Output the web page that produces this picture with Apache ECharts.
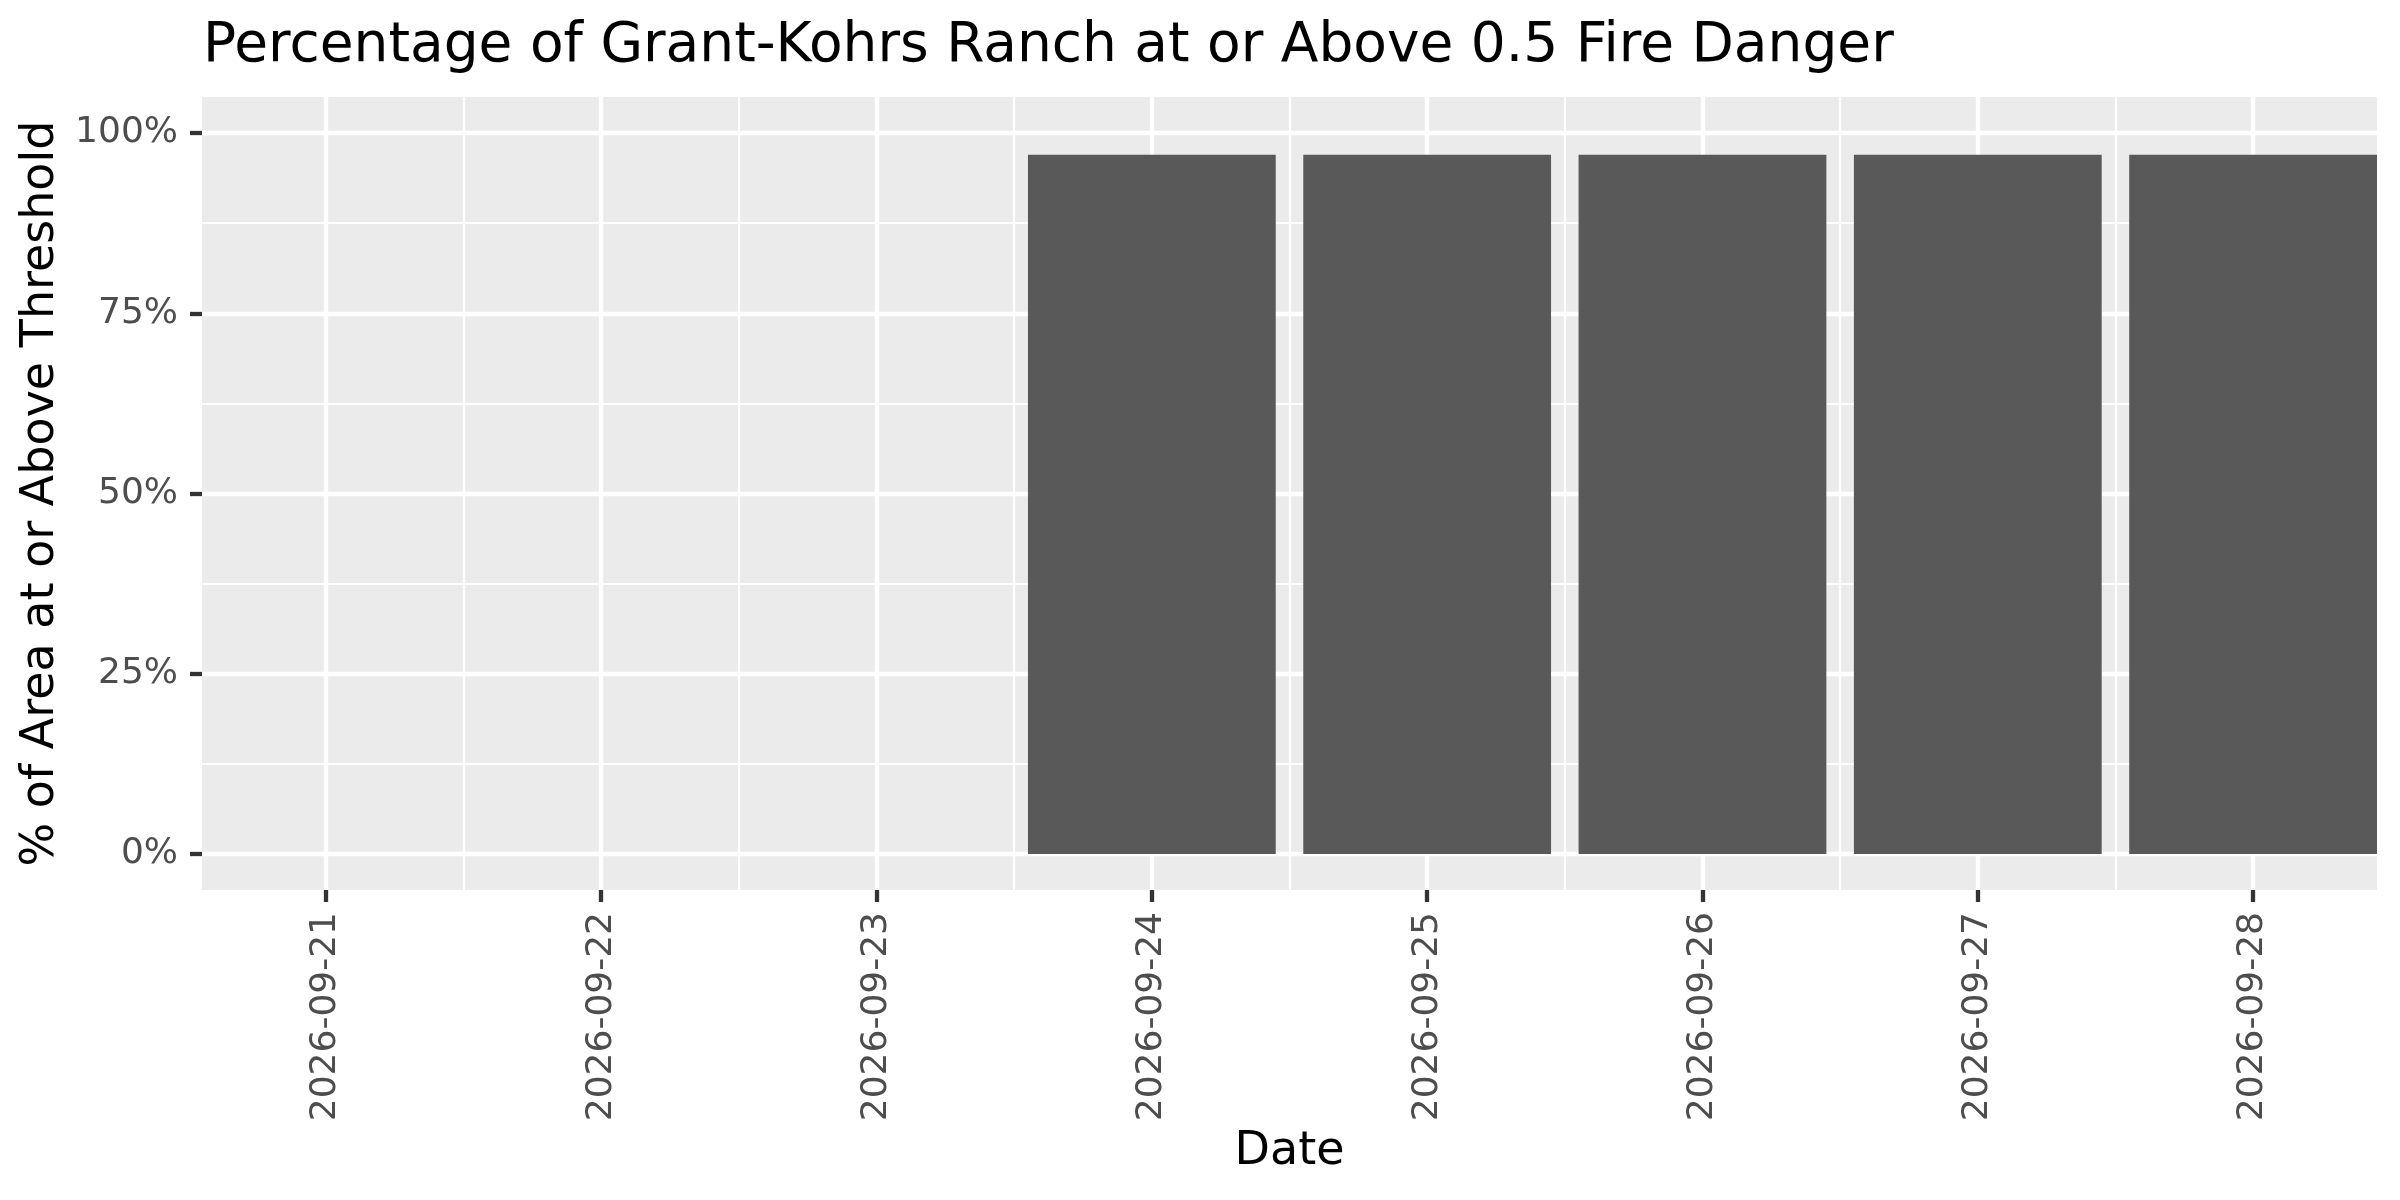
<!DOCTYPE html>
<html>
<head>
<meta charset="utf-8">
<script src="https://cdn.jsdelivr.net/npm/echarts@6/dist/echarts.min.js"></script>
<style>
  html, body { margin: 0; padding: 0; background: #fff; }
  #chart { width: 2400px; height: 1200px; }
</style>
</head>
<body>
<div id="chart"></div>
<script>
// data
var dates = ['2026-09-21', '2026-09-22', '2026-09-23', '2026-09-24',
             '2026-09-25', '2026-09-26', '2026-09-27', '2026-09-28'];
var pctAbove = [0, 0, 0, 97, 97, 97, 97, 97];
var yTicks = [0, 25, 50, 75, 100];
var yMinorTicks = [12.5, 37.5, 62.5, 87.5];

// x positions are the date index
var xTicks = dates.map(function (d, i) { return i; });
var xMinorTicks = dates.slice(1).map(function (d, i) { return i + 0.5; });

var font = 'DejaVu Sans';
var myChart = echarts.init(document.getElementById('chart'));

var option = {
    backgroundColor: '#ffffff',
    animation: false,
    title: {
        text: 'Percentage of Grant-Kohrs Ranch at or Above 0.5 Fire Danger',
        left: 198,
        top: 14,
        textStyle: { fontFamily: font, fontSize: 55, fontWeight: 'normal', color: '#000' }
    },
    grid: {
        left: 202, right: 23, top: 97, bottom: 310,
        show: true, backgroundColor: '#EBEBEB', borderWidth: 0
    },
    xAxis: [{
        // main axis: labels, ticks, major grid lines
        type: 'value',
        min: -0.45, max: 7.45,
        position: 'bottom',
        name: 'Date',
        nameLocation: 'middle',
        nameGap: 239,
        nameTextStyle: { fontFamily: font, fontSize: 46, color: '#000' },
        axisLine: { show: false, onZero: false },
        axisTick: { show: true, length: 12, customValues: xTicks,
                    lineStyle: { color: '#333333', width: 4.3 } },
        axisLabel: {
            customValues: xTicks, rotate: 90, margin: 22,
            fontFamily: font, fontSize: 36, color: '#4D4D4D',
            formatter: function (v) { return dates[Math.round(v)]; }
        },
        splitLine: { show: true, lineStyle: { color: '#ffffff', width: 4.4 } }
    }, {
        // helper axis: minor grid lines only
        type: 'value',
        min: -0.45, max: 7.45,
        position: 'bottom',
        axisLine: { show: false, onZero: false },
        axisTick: { show: false, customValues: xMinorTicks },
        axisLabel: { show: false },
        splitLine: { show: true, lineStyle: { color: '#ffffff', width: 2.2 } }
    }],
    yAxis: [{
        type: 'value',
        min: -5, max: 105,
        position: 'left',
        name: '% of Area at or Above Threshold',
        nameLocation: 'middle',
        nameGap: 134,
        nameTextStyle: { fontFamily: font, fontSize: 46, color: '#000' },
        axisLine: { show: false, onZero: false },
        axisTick: { show: true, length: 12, customValues: yTicks,
                    lineStyle: { color: '#333333', width: 4.3 } },
        axisLabel: {
            customValues: yTicks, margin: 24,
            fontFamily: font, fontSize: 36, color: '#4D4D4D',
            formatter: function (v) { return v + '%'; }
        },
        splitLine: { show: true, lineStyle: { color: '#ffffff', width: 4.4 } }
    }, {
        type: 'value',
        min: -5, max: 105,
        position: 'right',
        axisLine: { show: false, onZero: false },
        axisTick: { show: false, customValues: yMinorTicks },
        axisLabel: { show: false },
        splitLine: { show: true, lineStyle: { color: '#ffffff', width: 2.2 } }
    }],
    series: [{
        name: 'pct',
        type: 'bar',
        xAxisIndex: 0,
        yAxisIndex: 0,
        barWidth: '90%',
        itemStyle: { color: '#595959' },
        data: pctAbove.map(function (v, i) { return [xTicks[i], v]; })
    }]
};

myChart.setOption(option);
</script>
</body>
</html>
